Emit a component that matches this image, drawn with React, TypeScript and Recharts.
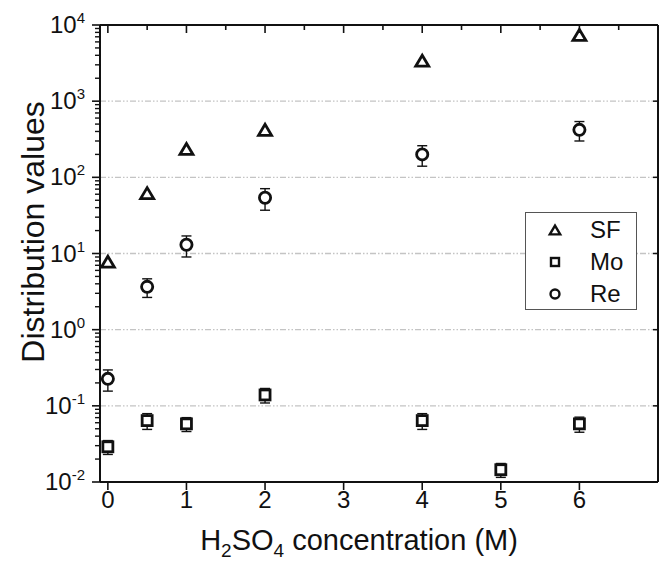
import React from 'react';
import { ScatterChart, Scatter, XAxis, YAxis, ErrorBar, ReferenceLine, Legend } from 'recharts';

const FONT = '"Liberation Sans", Arial, Helvetica, sans-serif';
const INK = '#111111';

// ---- data ----
const sfConcentrations = [0, 0.5, 1, 2, 4, 6];
const sfValues = [7.8, 62, 236, 420, 3400, 7400];

const reConcentrations = [0, 0.5, 1, 2, 4, 6];
const reValues = [0.226, 3.65, 13, 54, 200, 420];
const reErrors = [0.07, 1.0, 4, 17, 60, 120];

const moConcentrations = [0, 0.5, 1, 2, 4, 5, 6];
const moValues = [0.029, 0.064, 0.058, 0.139, 0.064, 0.0145, 0.058];
const moErrors = [0.006, 0.015, 0.012, 0.03, 0.015, 0.003, 0.013];

const seriesNames = ['SF', 'Mo', 'Re'];

// ---- ticks ----
const xTickValues = [0, 1, 2, 3, 4, 5, 6];
const topTickValues = [0, 0.5, 1, 1.5, 2, 2.5, 3, 3.5, 4, 4.5, 5, 5.5, 6, 6.5];
const decadeExponents = [-2, -1, 0, 1, 2, 3, 4];
const gridExponents = [-1, 0, 1, 2, 3];
const minorMultipliers = [2, 3, 4, 5, 6, 7, 8, 9];
const xDomain = [-0.1, 7];
const yDomain = [0.01, 10000];

const decadeValues = decadeExponents.map((e) => Math.pow(10, e));
const leftTickValues: number[] = [];
decadeExponents.forEach((e, i) => {
  leftTickValues.push(Math.pow(10, e));
  if (i < decadeExponents.length - 1) {
    minorMultipliers.forEach((m) => leftTickValues.push(m * Math.pow(10, e)));
  }
});

const sfData = sfConcentrations.map((x, i) => ({ x, y: sfValues[i] }));
const reData = reConcentrations.map((x, i) => ({ x, y: reValues[i], err: reErrors[i] }));
const moData = moConcentrations.map((x, i) => ({ x, y: moValues[i], err: moErrors[i] }));

// ---- marker shapes ----
const Triangle = ({ cx, cy, s = 1, sw = 2.8 }: any) => {
  const w = 13 * s;
  const h = 11 * s;
  const pts = `${cx - w / 2},${cy + h / 2} ${cx + w / 2},${cy + h / 2} ${cx},${cy - h / 2}`;
  return <polygon points={pts} fill="#fff" stroke={INK} strokeWidth={sw} strokeLinejoin="miter" />;
};
const Square = ({ cx, cy, s = 1, sw = 2.8 }: any) => {
  const w = 10 * s;
  return <rect x={cx - w / 2} y={cy - w / 2} width={w} height={w} fill="#fff" stroke={INK} strokeWidth={sw} />;
};
const Circle = ({ cx, cy, s = 1, sw = 2.8 }: any) => (
  <circle cx={cx} cy={cy} r={5.6 * s} fill="#fff" stroke={INK} strokeWidth={sw} />
);
const Nothing = () => <g />;

// ---- axis ticks ----
const LeftTick = (props: any) => {
  const { x, y, payload } = props;
  const e = Math.log10(payload.value);
  const major = Math.abs(e - Math.round(e)) < 1e-6;
  if (!major) {
    return <line x1={x + 1} x2={x - 5} y1={y} y2={y} stroke={INK} strokeWidth={1.4} />;
  }
  return (
    <g>
      <line x1={x} x2={x - 8} y1={y} y2={y} stroke={INK} strokeWidth={1.6} />
      <text x={x - 15} y={y + 8} textAnchor="end" fontFamily={FONT} fontSize={24} fill={INK}>
        <tspan>10</tspan>
        <tspan dy={-10} fontSize={15}>{String(Math.round(e))}</tspan>
      </text>
    </g>
  );
};

const RightTick = (props: any) => {
  const { x, y } = props;
  return <line x1={x} x2={x - 5} y1={y} y2={y} stroke={INK} strokeWidth={1.5} />;
};

const BottomTick = (props: any) => {
  const { x, y, payload } = props;
  return (
    <g>
      <line x1={x} x2={x} y1={y} y2={y + 8} stroke={INK} strokeWidth={1.6} />
      <text x={x} y={y + 26} textAnchor="middle" fontFamily={FONT} fontSize={24} fill={INK}>
        {String(payload.value)}
      </text>
    </g>
  );
};

const TopTick = (props: any) => {
  const { x, y, payload } = props;
  const major = Number.isInteger(payload.value);
  return <line x1={x} x2={x} y1={y} y2={y + (major ? 8 : 5)} stroke={INK} strokeWidth={1.6} />;
};

// ---- titles ----
const XTitle = (props: any) => {
  const vb = props.viewBox || { x: 100, width: 558, y: 482 };
  const cx = vb.x + vb.width / 2 - 20;
  return (
    <text x={cx} y={550} textAnchor="middle" fontFamily={FONT} fontSize={29} fill={INK}>
      <tspan>H</tspan>
      <tspan dy={7} fontSize={19}>2</tspan>
      <tspan dy={-7}>SO</tspan>
      <tspan dy={7} fontSize={19}>4</tspan>
      <tspan dy={-7}> concentration (M)</tspan>
    </text>
  );
};

const YTitle = () => (
  <text
    x={0}
    y={0}
    transform="translate(44, 232) rotate(-90)"
    textAnchor="middle"
    fontFamily={FONT}
    fontSize={32}
    fill={INK}
  >
    Distribution values
  </text>
);

// ---- legend ----
const legendShapes = [Triangle, Square, Circle];
const LegendBox = () => (
  <div
    style={{
      width: 112,
      height: 98,
      boxSizing: 'border-box',
      border: '1px solid #555',
      background: '#fff',
      paddingTop: 1,
      fontFamily: FONT,
      fontSize: 24,
      color: INK,
    }}
  >
    {seriesNames.map((name, i) => {
      const Shape = legendShapes[i];
      return (
        <div key={name} style={{ height: 32, display: 'flex', alignItems: 'center' }}>
          <svg width={64} height={32} style={{ display: 'block' }}>
            <Shape cx={29} cy={16} s={0.8} sw={2.4} />
          </svg>
          <span style={{ lineHeight: '32px' }}>{name}</span>
        </div>
      );
    })}
  </div>
);

export default function App() {
  return (
    <div style={{ position: 'absolute', left: 0, top: 0, width: 660, height: 561, background: '#fff' }}>
      <ScatterChart width={660} height={561} margin={{ top: 24, right: 1, bottom: 0, left: 40 }}>
        <XAxis
          xAxisId="bottom"
          dataKey="x"
          type="number"
          domain={xDomain}
          allowDataOverflow
          ticks={xTickValues}
          interval={0}
          height={79}
          tickSize={0}
          tickMargin={0}
          tickLine={false}
          tick={<BottomTick />}
          axisLine={{ stroke: INK, strokeWidth: 2 }}
          label={<XTitle />}
        />
        <XAxis
          xAxisId="top"
          orientation="top"
          dataKey="x"
          type="number"
          domain={xDomain}
          allowDataOverflow
          ticks={topTickValues}
          interval={0}
          height={1}
          tickSize={0}
          tickMargin={0}
          tickLine={false}
          tick={<TopTick />}
          axisLine={{ stroke: INK, strokeWidth: 2 }}
        />
        <YAxis
          yAxisId="left"
          dataKey="y"
          type="number"
          scale="log"
          domain={yDomain}
          allowDataOverflow
          ticks={leftTickValues}
          interval={0}
          minTickGap={0}
          width={60}
          tickSize={0}
          tickMargin={0}
          tickLine={false}
          tick={<LeftTick />}
          axisLine={{ stroke: INK, strokeWidth: 2 }}
          label={<YTitle />}
        />
        <YAxis
          yAxisId="right"
          orientation="right"
          dataKey="y"
          type="number"
          scale="log"
          domain={yDomain}
          allowDataOverflow
          ticks={decadeValues}
          interval={0}
          width={1}
          tickSize={0}
          tickMargin={0}
          tickLine={false}
          tick={<RightTick />}
          axisLine={{ stroke: INK, strokeWidth: 2 }}
        />
        {gridExponents.map((e) => (
          <ReferenceLine
            key={e}
            xAxisId="bottom"
            yAxisId="left"
            y={Math.pow(10, e)}
            stroke="#c4c4c4"
            strokeWidth={1.3}
            strokeDasharray="6 2 1.5 2 1.5 2"
          />
        ))}
        <Legend
          layout="horizontal"
          align="center"
          verticalAlign="middle"
          content={<LegendBox />}
          wrapperStyle={{ position: 'absolute', left: 525, top: 212, width: 112, height: 98 }}
        />
        {/* invisible series that attach the frame axes (top, right) */}
        <Scatter name="frame" data={sfData} xAxisId="top" yAxisId="right" shape={<Nothing />} isAnimationActive={false} legendType="none" />
        <Scatter name="Mo err" data={moData} xAxisId="bottom" yAxisId="left" shape={<Nothing />} isAnimationActive={false} legendType="none">
          <ErrorBar dataKey="err" direction="y" width={5} stroke={INK} strokeWidth={1.4} isAnimationActive={false} />
        </Scatter>
        <Scatter name="Re err" data={reData} xAxisId="bottom" yAxisId="left" shape={<Nothing />} isAnimationActive={false} legendType="none">
          <ErrorBar dataKey="err" direction="y" width={5} stroke={INK} strokeWidth={1.4} isAnimationActive={false} />
        </Scatter>
        <Scatter name="SF" data={sfData} xAxisId="bottom" yAxisId="left" shape={<Triangle />} isAnimationActive={false} />
        <Scatter name="Mo" data={moData} xAxisId="bottom" yAxisId="left" shape={<Square />} isAnimationActive={false} />
        <Scatter name="Re" data={reData} xAxisId="bottom" yAxisId="left" shape={<Circle />} isAnimationActive={false} />
      </ScatterChart>
    </div>
  );
}
